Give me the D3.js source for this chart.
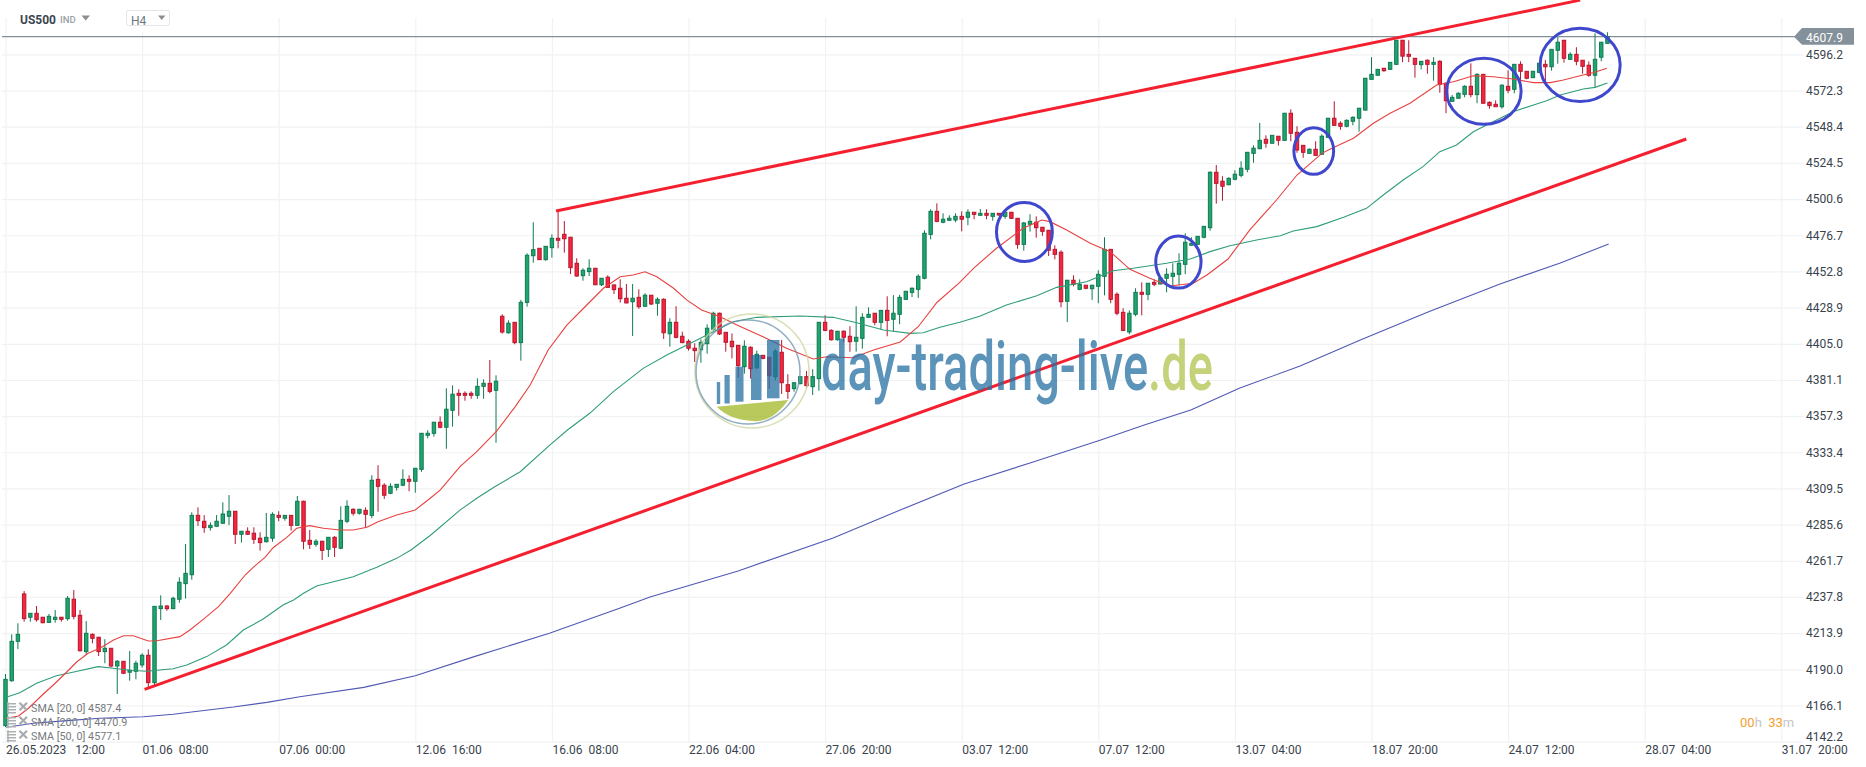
<!DOCTYPE html>
<html>
<head>
<meta charset="utf-8">
<title>US500 H4</title>
<script src="https://cdn.jsdelivr.net/npm/d3@7"></script>
<style>
    html, body { margin: 0; padding: 0; background: #fff; overflow: hidden; }
    svg { display: block; font-family: Roboto, sans-serif; }
    .axis path { display: none; }
    .axis text { font-family: Roboto, sans-serif; font-size: 12px; fill: #39434d; white-space: pre; }
    .grid path { display: none; }
    .grid line { stroke: #f1f2f3; stroke-width: 1.2; }
</style>
</head>
<body>
<div id="chart"></div>
<script>
// candles, one value per H4 bar
var opens = [
4152.8,4182.5,4208.5,4239.8,4224.4,4227,4224.4,4221,4223,4224.4,
4223.5,4236.3,4225.7,4201.7,4213.1,4211.2,4201.7,4203.9,4192.2,4195.3,
4188.1,4188.7,4192.9,4199.3,4181.2,4230.1,4231.8,4230.1,4236.3,4246.6,
4252.5,4291.7,4287.8,4283.6,4284.5,4286.5,4291.1,4294.4,4279.2,4281.2,
4279.9,4276.6,4274.3,4276.6,4291.7,4289.8,4291.7,4285.1,4301,4275.2,
4272.6,4274.6,4269.3,4277.2,4270,4287.8,4295.7,4293.1,4295,4291.7,
4315.5,4311.6,4306.3,4310.2,4311.6,4315.5,4314.2,4322.1,4344.6,4345.9,
4353.2,4349.9,4361.1,4372.3,4372.3,4372.3,4371,4376.9,4378.9,4374.3,
4423.2,4412.3,4419.2,4405.8,4432.4,4463.2,4468.1,4460.6,4468.5,4474.7,
4477.3,4475.4,4458.2,4450,4452.7,4454.9,4444,4449,4443.9,4441.7,
4435.1,4432.8,4435.7,4429.8,4437.1,4431.8,4434.4,4411.7,4419.2,4410,
4406.7,4402.1,4401.1,4405.1,4414.6,4425.2,4412.6,4406.7,4404,4389.9,
4402.7,4389.2,4397.4,4396.1,4383.3,4399.4,4378,4375.4,4378.7,4383.3,
4376.7,4382,4419.2,4413.9,4407.7,4413.3,4410,4406.7,4408.6,4422.5,
4425.2,4419.2,4427.1,4421.2,4424.5,4434.4,4439,4441,4448.3,4477.3,
4492.5,4485.3,4486.6,4486.8,4489.2,4488.6,4491.9,4489.9,4491.2,4489.2,
4491.2,4489.2,4491.9,4487.9,4470.7,4484,4485.3,4482,4480,4467.4,
4465.5,4433.1,4447,4441,4443.7,4441.4,4443,4449.6,4467.4,4437.7,
4425.8,4412.8,4424.5,4439,4437.7,4445.6,4444.5,4448.3,4449.6,4450.9,
4457.5,4470.1,4470.7,4475.4,4481.7,4518.3,4512.4,4510.1,4513.7,4516.3,
4520.3,4530.8,4533.9,4540.1,4537.5,4542.1,4539.4,4557.3,4544.7,4536.1,
4530.8,4533.5,4530.2,4541.4,4554,4550.7,4548.7,4552,4554,4559.4,
4579.7,4582.4,4587,4586.3,4589.6,4605.5,4596.2,4593.6,4589.4,4592.3,
4589.6,4591.6,4577.1,4565.2,4567.2,4569.8,4575.1,4569.6,4583,4564.5,
4563.2,4561.6,4575.1,4573.1,4589.6,4585,4580.8,4584.3,4589.6,4588,
4598.9,4605.5,4592.9,4596.2,4592.3,4589,4582.4,4594.3,4603.5];

var highs = [
4186.9,4213.1,4220.4,4241.7,4227.2,4231.8,4224.6,4226.6,4229.2,4224.6,
4238.4,4242.4,4229.2,4221.9,4213.8,4211.4,4209.9,4204.1,4196.2,4195.5,
4202.1,4195.7,4200.6,4203.2,4231.8,4238.9,4232.5,4238,4250.8,4272.8,
4293.7,4297,4291.9,4287.1,4291.9,4300.3,4305.1,4294.6,4281.4,4283.8,
4283.8,4280.5,4293.3,4293.7,4294.4,4291.9,4291.9,4304.5,4301.4,4282,
4275.9,4274.8,4277.4,4278,4297.7,4301.7,4296.4,4295.9,4297,4318.2,
4324.8,4312.9,4312.9,4312.4,4322.1,4318.2,4323,4346.1,4347.9,4353.4,
4357.1,4375.6,4377.6,4375,4373.6,4373.6,4382.2,4381.6,4394.3,4384.2,
4424.5,4420.5,4419.4,4434,4464.8,4485.3,4468.3,4469.6,4477.3,4492.7,
4486.1,4475.6,4461.5,4454.9,4460.8,4455.1,4448.5,4450.3,4444.1,4447.6,
4444.5,4444.5,4441,4438.4,4437.3,4435.7,4435.1,4421.9,4429.8,4413,
4408,4405.4,4408,4417.9,4426.2,4425.6,4412.8,4411.9,4404.2,4407.3,
4403.4,4400.5,4397.6,4396.3,4401.4,4407.5,4384.9,4379.8,4383.6,4387,
4388.2,4419.4,4423.9,4414.6,4413.5,4413.9,4416.6,4429.8,4425.2,4429.1,
4425.4,4427.3,4436.4,4437.2,4437.4,4439.9,4442.3,4450.9,4480,4493.9,
4497.8,4491.2,4489.9,4491.2,4492.5,4493.9,4492.1,4494,4493.9,4491.4,
4491.4,4492.1,4492.1,4488.1,4485.5,4490.6,4489.2,4482.2,4480.2,4470.1,
4466.8,4447.2,4450.3,4447.6,4443.9,4443.9,4453.6,4475.4,4467.6,4439,
4428.5,4427.1,4441.7,4445.6,4445.2,4447.6,4448.5,4454.9,4458.2,4464.8,
4478,4475.4,4476.2,4482.8,4518.9,4523.1,4515.7,4515,4519.6,4525.6,
4531.7,4536.1,4550.9,4542.7,4542.9,4542.3,4557.5,4559.9,4548.7,4536.3,
4534.1,4538.8,4543.4,4554.2,4565.2,4552,4553.3,4555.3,4560.8,4580.6,
4594.3,4586.5,4587.2,4591.1,4605.7,4605.7,4605.5,4593.8,4591.8,4592.9,
4594.3,4592.3,4577.7,4569.4,4571.1,4575.8,4590.3,4583.7,4583.2,4565.2,
4565.9,4576.4,4585.7,4589.8,4591.6,4585.2,4585.2,4590.5,4592.5,4599.7,
4607.5,4605.7,4597.6,4600.9,4592.5,4591.6,4610.1,4604.4,4610.8];

var lows = [
4151.9,4181.8,4203.4,4221.5,4221.5,4221.5,4220.4,4220.8,4220.8,4221.5,
4222.1,4223,4201.7,4199.5,4207.2,4198.8,4194,4191.3,4173.7,4186.9,
4182.5,4183.4,4191.1,4177.5,4179,4222.6,4228.7,4229.7,4234,4236.7,
4249.2,4284.7,4280.2,4281.6,4284.3,4286,4285.3,4272.8,4273.7,4278.7,
4272.8,4268.4,4273.7,4274.3,4287.8,4288.2,4281.6,4284.9,4269.3,4269.5,
4271,4262.2,4264.2,4264.2,4269.3,4286.5,4291.5,4292.2,4283.6,4289.8,
4294.1,4302.5,4305.6,4308,4310.9,4307.6,4306.7,4320.5,4342.6,4343.7,
4349.2,4335.7,4350.3,4357.5,4367.4,4368.7,4368.7,4368.7,4372.3,4339.7,
4411.7,4411.7,4404.7,4393.9,4429.5,4458.6,4460.6,4459.9,4461.9,4468.1,
4465.2,4451.1,4449.3,4446.7,4449.8,4444,4443.2,4442.1,4437.9,4432.2,
4431.8,4410.2,4428.2,4429.5,4430.6,4423.6,4408.2,4403.1,4408.6,4405.4,
4400.5,4393,4392.5,4398.5,4413.7,4410.8,4399.8,4395.4,4382.6,4385.3,
4382,4388.2,4394.8,4375.3,4380.9,4371.9,4368.6,4373.4,4378.3,4376,
4371.2,4374,4413.3,4407.1,4407.1,4406,4399.8,4399.8,4401.8,4422.5,
4417.2,4414.6,4410,4413.3,4417.9,4434,4435.9,4435.3,4447.6,4474,
4485.3,4484.6,4486.3,4485.3,4479.3,4483.3,4487.3,4489.4,4487.3,4486.3,
4489.4,4487.6,4487.6,4467.8,4466.5,4479.1,4475.1,4476.4,4463,4460.8,
4429.1,4419.4,4443,4440.4,4441,4434,4431.8,4437,4431.8,4423.8,
4413.3,4411.3,4423.2,4423.8,4433.8,4443,4444.3,4439,4443.7,4443.7,
4451,4469.8,4470.7,4474.7,4479.7,4497.6,4499.5,4509.7,4513,4515,
4518.3,4524.6,4533.5,4534.5,4537.2,4535.9,4539.2,4538.8,4531.2,4527.9,
4530.6,4529.3,4529.9,4541,4549.1,4546.4,4548,4549.3,4545.1,4559,
4579.5,4581.9,4584.7,4585.9,4589.4,4591,4591,4580.8,4586.3,4583.4,
4578.8,4570.9,4557.3,4564.9,4566.9,4567.8,4567.8,4563.9,4563.6,4560.3,
4561.6,4560.3,4570.5,4570.5,4574.4,4579.7,4580.6,4584.1,4577.1,4585.4,
4590,4590.7,4592.7,4589,4583.4,4581.4,4574.4,4591.6,4603.2];

var closes = [
4183.4,4208.5,4213.1,4223.5,4227,4222.8,4220.8,4225,4224.4,4223,
4236.9,4225,4202.3,4213.8,4210.5,4201.7,4203.9,4192.2,4195.3,4187.4,
4189.4,4194,4199.3,4181.2,4231.6,4231.8,4230.1,4236.9,4247.5,4253.4,
4291.7,4288.2,4283.6,4285.1,4287.8,4292.6,4294.4,4279.2,4281.2,4279.2,
4275.9,4273.7,4277.2,4292.4,4290.4,4291.7,4285.1,4301,4274.6,4272.6,
4274.6,4268.6,4277.2,4270.6,4288.4,4297.7,4293.1,4295.7,4292.4,4314.9,
4310.9,4305,4310.9,4312.2,4315.5,4314.2,4322.8,4345.9,4345.9,4353.2,
4349.9,4361.8,4371.7,4371,4371,4371,4376.9,4378.9,4373.6,4380.3,
4412.8,4418.6,4405.8,4432.4,4463.5,4467.2,4460.6,4469.4,4474.7,4473.4,
4474.4,4455.3,4449.8,4453.6,4454.9,4444,4448.3,4442.3,4440.8,4434.8,
4432,4435.1,4429.5,4437.1,4431.3,4434.4,4412.3,4419.2,4409.3,4405.8,
4402.1,4400.5,4406,4415.3,4425.2,4411.5,4406,4403.1,4390.6,4403.4,
4388.6,4398.1,4395.4,4384,4400.1,4379.3,4373.6,4379.3,4383.3,4377.4,
4383.3,4419.2,4413.9,4407.7,4413.3,4409.3,4406.4,4409.3,4422.5,4424.5,
4419.2,4427.1,4420.5,4425.2,4435.7,4439.7,4441.7,4449.6,4478,4492.5,
4485.9,4487.3,4487.9,4489.2,4487.3,4491.9,4490.5,4491.2,4489.9,4491.2,
4490.1,4491.9,4487.9,4470.7,4484.8,4485.9,4481.7,4479.3,4466.8,4464.1,
4432.8,4447,4444.3,4444.3,4441.7,4443.7,4450.9,4467.4,4434.4,4425.2,
4413.9,4425.2,4439,4437.7,4445,4444.3,4448.3,4450.9,4451.6,4458.2,
4472.1,4471.4,4476,4482.6,4518.3,4511,4509.1,4514.3,4517,4521,
4531.5,4534.2,4539.4,4537.5,4542.7,4539.4,4557.3,4544.1,4533,4531.5,
4533.5,4529.5,4542.1,4554,4549.3,4548.7,4552.6,4554.6,4560.6,4580.4,
4583,4586.3,4585.4,4590.9,4605.5,4595,4594.9,4589.6,4591.6,4589.6,
4590.9,4576.4,4565.6,4567.8,4570.5,4575.1,4569.6,4583,4563.9,4562.3,
4561.6,4575.8,4572.5,4589.6,4585,4580.4,4585,4590.3,4588,4599.5,
4604.2,4593.6,4596.2,4591.6,4588.3,4582.4,4592.9,4604.2,4607.9];

// moving averages, sampled along the line: bar position and value
var sma20Bars = [0.1,2.1,3.7,6.1,8,9.9,11.5,13.3,15.2,17.4,19,20.6,23,24.4,28.1,29.7,31.9,34.3,36.2,38.6,39.9,41.8,43.1,45.3,46.9,49,51.2,53.9,56,58.2,60,63,66,68.4,70,73.2,75.9,79.1,82.1,84.5,87.4,90.4,93.1,96.3,99,101.1,103,104.9,107.6,109.7,112.1,115.1,117.8,122,125.8,130.1,132.3,136.5,139.8,144.1,147,150,153.6,155.9,159.6,163.9,166.9,168.2,170.9,174.7,177.9,181.1,184.3,187.5,191.3,193.5,196.9,200.4,204.7,208,212,213.3,217.1,220.3,223,226.2,230.5,233.2,236.4,239.6,242.8,246.1,248.8,250.9,253.6,255.7,257.9];
var sma20Values = [4157.6,4159.2,4164.3,4173.7,4180.8,4188.4,4195,4200.6,4203.9,4209.4,4212.2,4212.2,4208.7,4208.9,4211.6,4216,4223.2,4231.4,4240.2,4252.3,4257.4,4264,4270.3,4277.2,4283.2,4284.9,4283.2,4282,4282,4283.8,4287.5,4291.9,4295.3,4303,4308.4,4323.9,4333.8,4347.4,4363.5,4377.8,4400.9,4417.4,4428.5,4441.7,4449.3,4450.5,4452.6,4449.3,4441.7,4434,4427.3,4422.9,4417.4,4409.7,4402.1,4395,4396.5,4395.8,4400.9,4406.2,4416.3,4432.3,4445.2,4454.9,4468.1,4481.3,4486.8,4485.7,4480.2,4471.4,4465.9,4454.2,4448.3,4443.2,4445,4450.5,4461,4480.2,4500,4516.5,4530.8,4533.5,4540.8,4550.7,4557.3,4563.9,4575.9,4578.1,4582.1,4581.4,4579.9,4577.5,4577.5,4579.3,4582.1,4584.1,4587];

var sma50Bars = [0.1,2.3,5,8.2,11.2,14.9,17.4,20.1,22.7,27,29.2,32.4,35.6,38.3,41.5,44.7,46.4,48,50.1,53.3,56,59.8,63,65.3,68.4,73.2,75.9,78.8,82.9,87.7,90.5,94.1,97.9,102.7,106.5,110.8,114,117.2,121,128,133.3,137.1,141.4,145.7,147.8,150.5,153.7,156.9,161.2,166.1,169.3,174.1,178.4,181.6,187,190.8,194,197.2,201.5,205.3,207.4,211.2,215.5,219.2,221.9,225.1,228.3,231,233.7,236.4,239.1,242.8,246.1,248.2,250.4,254.1,256,258];
var sma50Values = [4171.5,4174.6,4180.8,4185.8,4188.4,4191.8,4190.7,4189.4,4188.7,4190.4,4192.9,4198.4,4206.1,4216,4223.2,4232.5,4235.8,4240.2,4245,4248.3,4251.2,4257.4,4263.3,4268.8,4278.4,4295.2,4303,4310.6,4320.5,4338.2,4348.1,4359.1,4373.4,4388.8,4397.6,4406.4,4413,4419.6,4422.5,4423.4,4422.5,4418.9,4414.1,4411.9,4412.3,4415.9,4419.2,4423.2,4430.6,4436.8,4442.3,4446,4453.3,4454.9,4458.2,4461,4465.9,4469.8,4473.6,4476.4,4479.5,4482.4,4488.6,4494.5,4503.3,4513.2,4522,4531.9,4536.3,4545.1,4550.7,4558.3,4562.8,4565.6,4569.4,4573.3,4574.4,4577.3];

var sma200Bars = [0.1,4.5,9.9,15.2,22.2,27,31.3,36.7,42.1,47.4,57.7,66,75.5,87.6,98.9,103.8,118,133.3,144.1,154.4,165,176.4,183.4,190.9,198.8,208.5,218.2,229.1,240.7,250.4,258.2];
var sma200Values = [4151.7,4154.4,4156.1,4157.7,4158.7,4160.3,4162.5,4165.1,4168.2,4171.9,4178.1,4185.8,4198.4,4213.8,4230.3,4237.8,4255,4276.8,4295.2,4312.4,4326.3,4341.5,4351.4,4361.3,4375.8,4390.4,4407.5,4426,4444.5,4458.4,4470.9];

// drawn on top of the chart by hand: two trend lines and five rings
var trendBars = [[88.66,253.6],[22.4,270.7]];
var trendPrices = [[4492.7,4632],[4176.8,4540.3]];
var ringBars = [164.1,188.9,210.7,238.1,253.6];
var ringPrices = [4478.9,4459,4532.4,4571.8,4589.2];
var ringBarRadius = [4.5,3.65,3.2,6,6.45];
var ringPriceRadius = [19.5,17.2,15.4,21.8,24.2];

var yTicks = [4596.2,4572.3,4548.4,4524.5,4500.6,4476.7,4452.8,4428.9,4405.0,4381.1,4357.3,4333.4,4309.5,4285.6,4261.7,4237.8,4213.9,4190.0,4166.1,4142.2];
var xTicks = [0,22,44,66,88,110,132,154,176,198,220,242,264,286];
var xLabels = ["26.05.2023   12:00","01.06  08:00","07.06  00:00","12.06  16:00","16.06  08:00","22.06  04:00","27.06  20:00","03.07  12:00","07.07  12:00","13.07  04:00","18.07  20:00","24.07  12:00","28.07  04:00","31.07  20:00"];
var lastPrice = 4607.9;
var legendLabels = ["SMA [20, 0] 4587.4","SMA [200, 0] 4470.9","SMA [50, 0] 4577.1"];

var width = 1866, height = 767;

var x = d3.scaleLinear().domain([0, 286]).range([5.5, 1781.3]);
var y = d3.scaleLinear().domain([4142.2, 4596.2]).range([741.7, 54.35]);

var svg = d3.select("#chart").append("svg")
    .attr("width", width)
    .attr("height", height);

// grid, drawn with the axes so the lines sit on the ticks
svg.append("g")
    .attr("class", "grid")
    .attr("transform", "translate(1803,0)")
    .call(d3.axisLeft(y).tickValues(yTicks).tickSize(1801).tickFormat(""));

svg.append("g")
    .attr("class", "grid")
    .attr("transform", "translate(0,741.7)")
    .call(d3.axisTop(x).tickValues(xTicks).tickSize(723.7).tickFormat(""));

// last price line
svg.append("line")
    .attr("x1", 2).attr("x2", 1796)
    .attr("y1", y(lastPrice)).attr("y2", y(lastPrice))
    .attr("stroke", "#84919a").attr("stroke-width", 1.2);

// candles
var bars = d3.range(opens.length);
var bodyW = 3.4;
function isUp(i) { return closes[i] >= opens[i]; }

var candle = svg.append("g").selectAll("g").data(bars).enter().append("g");

candle.append("line")
    .attr("x1", function (i) { return x(i); })
    .attr("x2", function (i) { return x(i); })
    .attr("y1", function (i) { return y(highs[i]); })
    .attr("y2", function (i) { return y(lows[i]); })
    .attr("stroke", function (i) { return isUp(i) ? "#0f7a52" : "#b5172f"; })
    .attr("stroke-width", 1);

candle.append("rect")
    .attr("x", function (i) { return x(i) - bodyW / 2; })
    .attr("width", bodyW)
    .attr("y", function (i) { return y(Math.max(opens[i], closes[i])); })
    .attr("height", function (i) { return Math.max(1, Math.abs(y(opens[i]) - y(closes[i]))); })
    .attr("fill", function (i) { return isUp(i) ? "#20a56f" : "#f7263f"; })
    .attr("stroke", function (i) { return isUp(i) ? "#0f7a52" : "#b5172f"; })
    .attr("stroke-width", 1);

// moving averages
function drawSma(barList, valueList, color) {
    var line = d3.line()
        .x(function (d) { return x(d); })
        .y(function (d, i) { return y(valueList[i]); });
    svg.append("path")
        .attr("d", line(barList))
        .attr("fill", "none")
        .attr("stroke", color)
        .attr("stroke-width", 1.1);
}
drawSma(sma200Bars, sma200Values, "#5058b4");
drawSma(sma50Bars, sma50Values, "#2f9d78");
drawSma(sma20Bars, sma20Values, "#e8413f");

// trend lines
trendBars.forEach(function (t, k) {
    svg.append("line")
        .attr("x1", x(t[0])).attr("x2", x(t[1]))
        .attr("y1", y(trendPrices[k][0])).attr("y2", y(trendPrices[k][1]))
        .attr("stroke", "#f5202f")
        .attr("stroke-width", 3);
});

// rings
svg.append("g").selectAll("ellipse").data(ringBars).enter().append("ellipse")
    .attr("cx", function (d) { return x(d); })
    .attr("cy", function (d, i) { return y(ringPrices[i]); })
    .attr("rx", function (d, i) { return x(d + ringBarRadius[i]) - x(d); })
    .attr("ry", function (d, i) { return y(ringPrices[i] - ringPriceRadius[i]) - y(ringPrices[i]); })
    .attr("fill", "none")
    .attr("stroke", "#3f48cc")
    .attr("stroke-width", 3);

// watermark, see-through so the candles show under it
var mark = svg.append("g").attr("opacity", 0.75);
mark.append("circle").attr("cx", 752).attr("cy", 371).attr("r", 57)
    .attr("fill", "none").attr("stroke", "#ccd59c").attr("stroke-width", 1.6);
mark.append("circle").attr("cx", 748).attr("cy", 372).attr("r", 52)
    .attr("fill", "none").attr("stroke", "#6f95ae").attr("stroke-width", 1.6);
[[716.8,3.4,382,404],[724.5,5.2,375,403.5],[735.5,8,366.7,401.7],[751,10.5,355,400],[767,12.5,340,398.3]].forEach(function (b) {
    mark.append("rect")
        .attr("x", b[0]).attr("y", b[2])
        .attr("width", b[1]).attr("height", b[3] - b[2])
        .attr("fill", "#246fa2");
});
mark.append("path")
    .attr("d", "M716.7,406.7L788.3,400Q772,423 753,421Q730,420 716.7,406.7Z")
    .attr("fill", "#a2b726");
// one text squeezed sideways as a whole, the logo lettering is narrow
var markText = mark.append("text")
    .attr("font-size", 68).attr("font-weight", 500);
markText.append("tspan").attr("fill", "#246fa2").text("day-trading-live");
markText.append("tspan").attr("fill", "#b2c34e").text(".de");
var markScale = 392 / markText.node().getComputedTextLength();
markText.attr("transform", "translate(821,390) scale(" + markScale + ",1)");

// price axis
var yAxis = svg.append("g")
    .attr("class", "axis")
    .attr("transform", "translate(1806,0)")
    .call(d3.axisRight(y).tickValues(yTicks).tickSize(0).tickPadding(0).tickFormat(d3.format(".1f")));
yAxis.selectAll("text").filter(function (d) { return d === 4142.2; }).attr("dy", "0").attr("y", -1);

// time axis
var xAxis = svg.append("g")
    .attr("class", "axis")
    .attr("transform", "translate(0,745)")
    .call(d3.axisBottom(x).tickValues(xTicks).tickSize(0).tickPadding(0)
        .tickFormat(function (d, i) { return xLabels[i]; }));
xAxis.selectAll("text").attr("text-anchor", "start").attr("dy", "0.71em");

// price tag
svg.append("path")
    .attr("d", "M1794," + y(lastPrice) + "L1802,28H1854V44.7H1802Z")
    .attr("fill", "#84919a");
svg.append("text")
    .attr("x", 1806).attr("y", 41.8)
    .attr("font-size", 12).attr("fill", "#fff")
    .text(d3.format(".1f")(lastPrice));

// instrument and timeframe, the white box hides the grid line behind the selector
svg.append("rect").attr("x", 100).attr("y", 0).attr("width", 90).attr("height", 32).attr("fill", "#fff");
svg.append("text").attr("x", 20).attr("y", 23.5)
    .attr("font-size", 12).attr("font-weight", 700).attr("fill", "#3c4650").text("US500");
svg.append("text").attr("x", 60).attr("y", 23)
    .attr("font-size", 9.5).attr("font-weight", 500).attr("fill", "#9a9fa5").text("IND");
svg.append("path").attr("d", "M81.5,15.5H90L85.7,20.5Z").attr("fill", "#8b8f94");
svg.append("rect").attr("x", 126.5).attr("y", 10.5).attr("width", 43).attr("height", 15).attr("rx", 2)
    .attr("fill", "#fff").attr("stroke", "#e3e5e7");
svg.append("text").attr("x", 131).attr("y", 25)
    .attr("font-size", 12).attr("fill", "#6b7680").text("H4");
svg.append("path").attr("d", "M158,15.5H165.5L161.7,20Z").attr("fill", "#8b8f94");

// indicator legend
var legend = svg.append("g").selectAll("g").data(legendLabels).enter().append("g")
    .attr("transform", function (d, i) { return "translate(0," + (708.2 + i * 14) + ")"; });
legend.append("text")
    .attr("x", 31).attr("y", 3.7)
    .attr("font-size", 10.8).attr("fill", "#777a7d")
    .text(function (d) { return d; });
legend.append("path")
    .attr("d", "M7,-4.5H16M7,-1.5H16M7,1.5H16M7,4.5H16M8,-6V6")
    .attr("fill", "none").attr("stroke", "#aeb1b4").attr("stroke-width", 1.5);
legend.append("path")
    .attr("d", "M19.5,-5.5L27,2M27,-5.5L19.5,2")
    .attr("fill", "none").attr("stroke", "#a8abae").attr("stroke-width", 2.2);

// countdown
var countdown = svg.append("text")
    .attr("x", 1740).attr("y", 726.5)
    .attr("font-size", 13)
    .style("white-space", "pre");
countdown.append("tspan").attr("fill", "#f7a02e").text("00");
countdown.append("tspan").attr("fill", "#c4c6c8").text("h  ");
countdown.append("tspan").attr("fill", "#f7a02e").text("33");
countdown.append("tspan").attr("fill", "#c4c6c8").text("m");
</script>
</body>
</html>
